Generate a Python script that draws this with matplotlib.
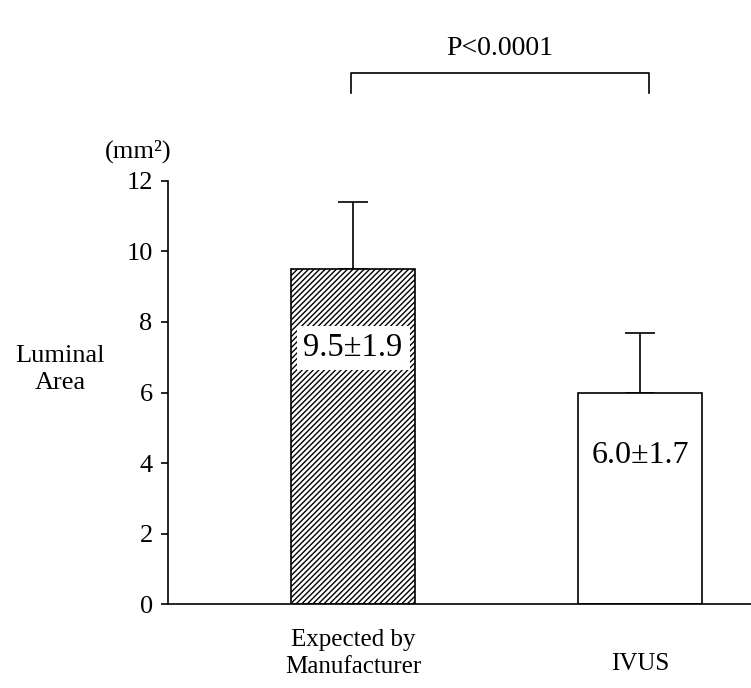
import matplotlib.pyplot as plt

plt.rcParams["font.family"] = ["Liberation Serif", "DejaVu Serif"]

groups = ["Expected by\nManufacturer", "IVUS"]
means = [9.5, 6.0]
sds = [1.9, 1.7]
labels = ["9.5±1.9", "6.0±1.7"]
label_y = [7.27, 4.2]
p_text = "P<0.0001"

fig = plt.figure(figsize=(7.51, 6.88), dpi=100)
ax = fig.add_axes([0.2237, 0.122, 0.7763, 0.615])

x = [0, 1]
ax.bar(x[0], means[0], width=0.432, color="white", edgecolor="black",
       hatch="//////", linewidth=1.2, zorder=2)
ax.bar(x[1], means[1], width=0.432, color="white", edgecolor="black",
       linewidth=1.2, zorder=2)
ax.errorbar(x, means, yerr=[[0, 0], sds], fmt="none", ecolor="black",
            elinewidth=1.2, capsize=11, capthick=1.2, zorder=1)

ax.text(x[0], label_y[0], labels[0], ha="center", va="center", fontsize=23.5,
        bbox=dict(facecolor="white", edgecolor="none", pad=5), zorder=3)
ax.text(x[1], label_y[1], labels[1], ha="center", va="center", fontsize=23, zorder=3)

ax.set_xlim(-0.645, 1.387)
ax.set_ylim(0, 12)
ax.set_yticks([0, 2, 4, 6, 8, 10, 12])
ax.tick_params(axis="y", direction="out", length=5, width=1.2, labelsize=19, pad=6)
ax.set_xticks([])
for side in ["top", "right"]:
    ax.spines[side].set_visible(False)
ax.spines["left"].set_linewidth(1.2)
ax.spines["bottom"].set_linewidth(1.2)

# x labels under bars
ax.text(x[0], -0.7, groups[0], ha="center", va="top", fontsize=18, linespacing=1.3)
ax.text(x[1], -1.4, groups[1], ha="center", va="top", fontsize=18)

# significance bracket
ax.plot([x[0] - 0.007, x[0] - 0.007, x[1] + 0.03, x[1] + 0.03], [14.5, 15.05, 15.05, 14.5],
        color="black", linewidth=1.2, clip_on=False)
ax.text(0.51, 15.75, p_text, ha="center", va="center", fontsize=20)

ax.text(-0.75, 12.85, "(mm²)", ha="center", va="center", fontsize=19)
ax.text(-1.02, 6.64, "Luminal\nArea", ha="center", va="center", fontsize=19, linespacing=1.3)

fig.savefig("out.png", dpi=100)
